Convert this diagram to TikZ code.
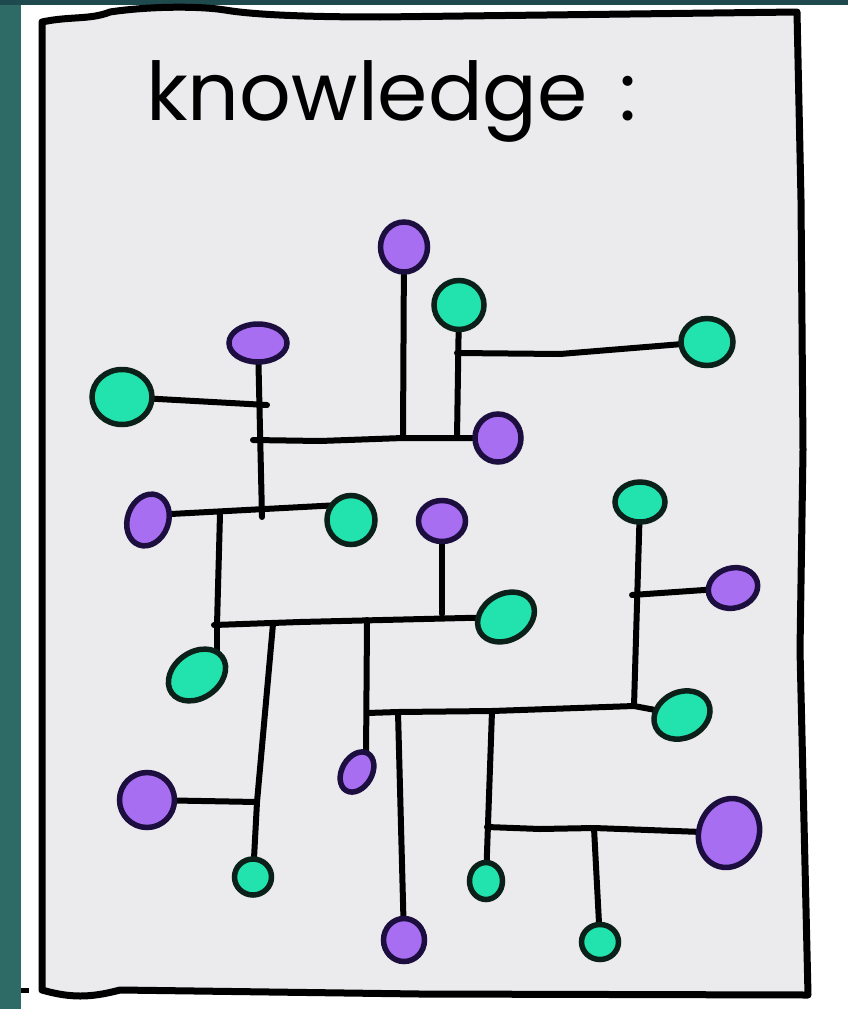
\documentclass[tikz,border=0pt]{standalone}
\usepackage{fontspec}
\newfontfamily\handfont{Poppins}
\usetikzlibrary{shapes.geometric}
\definecolor{pfill}{HTML}{A86EF2}
\definecolor{pedge}{HTML}{1C0F40}
\definecolor{gfill}{HTML}{22E3AE}
\definecolor{gedge}{HTML}{0B2018}
\definecolor{paper}{HTML}{EBEAED}
\definecolor{tealL}{HTML}{2E6B67}
\definecolor{tealT}{HTML}{1E4A4E}
\pgfdeclarelayer{bg}
\pgfsetlayers{bg,main}
\tikzset{
  link/.style={line width=6pt, draw=black, line cap=round, line join=round},
  pnode/.style={ellipse, draw=pedge, fill=pfill, line width=5.5pt, inner sep=0pt},
  gnode/.style={ellipse, draw=gedge, fill=gfill, line width=5.5pt, inner sep=0pt},
  frame/.style={line width=7pt, draw=black, line join=round, fill=paper},
}
\begin{document}
\begin{tikzpicture}[x=1pt,y=-1pt]
\useasboundingbox (0,0) rectangle (848,1009);
\begin{pgfonlayer}{bg}
\fill[white] (0,0) rectangle (848,1009);
\fill[tealL] (0,0) rectangle (21,1009);
\fill[tealT] (0,0) rectangle (848,5);
% paper with hand-drawn frame
\path[frame] (42,22) .. controls (70,16) and (90,20) .. (110,12)
  .. controls (150,6) and (200,6) .. (225,10)
  .. controls (260,16) and (330,17) .. (380,17)
  -- (797,12) -- (801,200) -- (803,450) -- (800,650) -- (808,995)
  -- (420,994) -- (120,990) .. controls (90,998) and (70,998) .. (42,990) -- cycle;
\draw[line width=5pt] (21,990) -- (29,990);
\end{pgfonlayer}
% title
\node[anchor=base west, inner sep=0pt, font=\handfont\fontsize{81}{81}\selectfont] (title) at (146,120) {knowledge\hspace{32pt}:};
% nodes
\node[pnode, minimum width=47pt, minimum height=50pt] (p1) at (404,247) {};
\node[gnode, minimum width=50pt, minimum height=49pt] (g1) at (459,305) {};
\node[pnode, minimum width=46pt, minimum height=48pt] (p2) at (498,438) {};
\node[gnode, minimum width=52pt, minimum height=47pt] (g2) at (707,342) {};
\node[pnode, minimum width=58pt, minimum height=38pt] (p3) at (258,343) {};
\node[gnode, minimum width=60pt, minimum height=55pt] (g3) at (122,397) {};
\node[pnode, minimum width=41pt, minimum height=53pt, rotate=-20] (p4) at (148,520) {};
\node[gnode, minimum width=48pt, minimum height=49pt] (g4) at (351,520) {};
\node[pnode, minimum width=47pt, minimum height=41pt] (p5) at (442,521) {};
\node[gnode, minimum width=50pt, minimum height=40pt] (g5) at (640,502) {};
\node[pnode, minimum width=50pt, minimum height=40pt, rotate=15] (p6) at (733,588) {};
\node[gnode, minimum width=60pt, minimum height=46pt, rotate=30] (g6) at (506,617) {};
\node[gnode, minimum width=62pt, minimum height=46pt, rotate=35] (g7) at (197,675) {};
\node[pnode, minimum width=55pt, minimum height=55pt] (p7) at (147,800) {};
\node[gnode, minimum width=37pt, minimum height=36pt] (g8) at (253,877) {};
\node[pnode, minimum width=30pt, minimum height=43pt, rotate=-30] (p8) at (357,772) {};
\node[pnode, minimum width=41pt, minimum height=43pt] (p9) at (404,940) {};
\node[gnode, minimum width=58pt, minimum height=46pt, rotate=25] (g9) at (682,715) {};
\node[gnode, minimum width=33pt, minimum height=37pt] (g10) at (486,881) {};
\node[pnode, minimum width=60pt, minimum height=70pt, rotate=-20] (p10) at (729,833) {};
\node[gnode, minimum width=37pt, minimum height=35pt] (g11) at (600,942) {};
% junction points
\coordinate (h1s) at (253,440);
\coordinate (jA) at (403,438);
\coordinate (jB) at (457,438);
\coordinate (jC) at (457,353);
\coordinate (jD) at (262,517);
\coordinate (jE) at (267,405);
\coordinate (jF) at (220,514);
\coordinate (jG) at (217,625);
\coordinate (jG2) at (217,655);
\coordinate (jH) at (214,625);
\coordinate (jI) at (273,624);
\coordinate (jJ) at (257,802);
\coordinate (jK) at (442,614);
\coordinate (jL) at (367,620);
\coordinate (jL2) at (366,760);
\coordinate (jM) at (367,713);
\coordinate (jN) at (398,712);
\coordinate (jO) at (492,711);
\coordinate (jP) at (634,706);
\coordinate (jQ) at (632,595);
\coordinate (jR) at (487,827);
\coordinate (jS) at (594,828);
\coordinate (jT1) at (152,515);
\coordinate (jT2) at (340,505);
% connectors
\begin{pgfonlayer}{bg}
\draw[link] (p1) -- (jA);
\draw[link] (h1s) -- (320,441) -- (jA) -- (jB) -- (p2);
\draw[link] (g1) -- (jB);
\draw[link] (jC) -- (560,354) -- (g2);
\draw[link] (p3) -- (jD);
\draw[link] (g3) -- (jE);
\draw[link] (jT1) -- (jT2);
\draw[link] (jF) -- (jG);
\draw[link] (jH) -- (300,622) -- (g6);
\draw[link] (jG) -- (jG2);
\draw[link] (jI) -- (jJ) -- (g8);
\draw[link] (p7) -- (jJ);
\draw[link] (p5) -- (jK);
\draw[link] (jL) -- (jL2);
\draw[link] (jM) -- (jN) -- (jO) -- (jP) -- (g9);
\draw[link] (g5) -- (jP);
\draw[link] (jQ) -- (p6);
\draw[link] (jN) -- (p9);
\draw[link] (jO) -- (g10);
\draw[link] (jR) -- (540,829) -- (jS) -- (p10);
\draw[link] (jS) -- (g11);
\end{pgfonlayer}
\end{tikzpicture}
\end{document}
